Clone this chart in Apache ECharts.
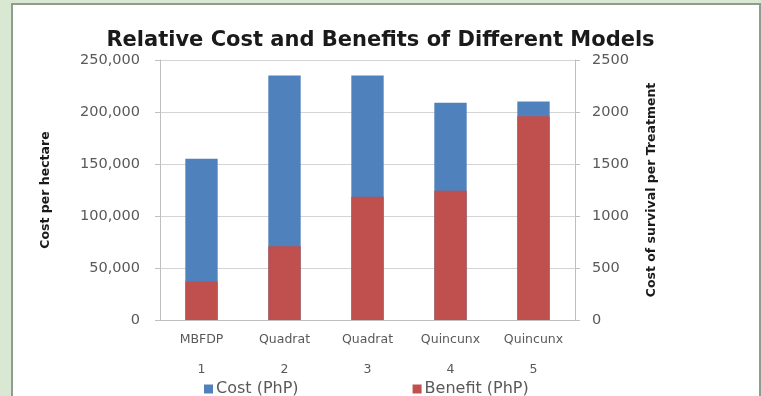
<!DOCTYPE html>
<html>
<head>
<meta charset="utf-8">
<script src="https://cdn.jsdelivr.net/npm/echarts@6/dist/echarts.min.js"></script>
<style>
  html, body { margin: 0; padding: 0; background: #d8e8d2; }
  #chart { width: 761px; height: 396px; }
</style>
</head>
<body>
<div id="chart"></div>
<script>
// Models compared (two-line axis labels: name, then number)
const modelNames = ['MBFDP', 'Quadrat', 'Quadrat', 'Quincunx', 'Quincunx'];
const modelNumbers = ['1', '2', '3', '4', '5'];
// Cost per hectare (PhP), left axis
const costValues = [155000, 235000, 235000, 209000, 210000];
// Cost of survival per treatment (PhP), right axis
const benefitValues = [370, 710, 1185, 1243, 1960];
// Axis ranges
const leftMax = 250000, leftStep = 50000;
const rightMax = 2500, rightStep = 500;

const categories = modelNames.map((n, i) => n + '\n\n' + modelNumbers[i]);
const FONT = '"DejaVu Sans", "Open Sans", sans-serif';

const chart = echarts.init(document.getElementById('chart'), null, { renderer: 'canvas' });
chart.setOption({
  backgroundColor: '#d8e8d2',
  animation: false,
  graphic: [
    { type: 'rect', z: -10, shape: { x: 12, y: 4, width: 748, height: 396 },
      style: { fill: '#ffffff', stroke: '#8f9e8c', lineWidth: 2 } }
  ],
  title: {
    text: 'Relative Cost and Benefits of Different Models',
    left: 'center', top: 25,
    textStyle: { fontFamily: FONT, fontSize: 21, fontWeight: 'bold', color: '#1a1a1a' }
  },
  legend: {
    left: 199, top: 376,
    itemWidth: 9, itemHeight: 9, itemGap: 114,
    icon: 'rect',
    textStyle: { fontFamily: FONT, fontSize: 16, color: '#595959', padding: [0, 0, 0, -2] },
    data: ['Cost (PhP)', 'Benefit (PhP)']
  },
  grid: { left: 160, right: 186, top: 60, bottom: 76 },
  xAxis: {
    type: 'category',
    data: categories,
    axisLine: { lineStyle: { color: '#bfbfbf' } },
    axisTick: { show: false },
    axisLabel: { interval: 0, fontFamily: FONT, fontSize: 12.5, color: '#595959', margin: 12, lineHeight: 15 }
  },
  yAxis: [
    {
      type: 'value', min: 0, max: leftMax, interval: leftStep,
      name: 'Cost per hectare', nameLocation: 'middle', nameGap: 108,
      nameTextStyle: { fontFamily: FONT, fontSize: 12.5, fontWeight: 'bold', color: '#1a1a1a' },
      axisLine: { show: true, lineStyle: { color: '#bfbfbf' } },
      axisTick: { show: true, length: 5, lineStyle: { color: '#bfbfbf' } },
      splitLine: { lineStyle: { color: '#d4d4d4' } },
      axisLabel: {
        fontFamily: FONT, fontSize: 14.5, color: '#595959', margin: 20,
        formatter: v => v.toLocaleString('en-US')
      }
    },
    {
      type: 'value', min: 0, max: rightMax, interval: rightStep,
      name: 'Cost of survival per Treatment', nameLocation: 'middle', nameGap: 70, nameRotate: 90,
      nameTextStyle: { fontFamily: FONT, fontSize: 12.5, fontWeight: 'bold', color: '#1a1a1a' },
      axisLine: { show: true, lineStyle: { color: '#bfbfbf' } },
      axisTick: { show: true, length: 5, lineStyle: { color: '#bfbfbf' } },
      splitLine: { show: false },
      axisLabel: {
        fontFamily: FONT, fontSize: 14.5, color: '#595959', margin: 17,
        formatter: v => String(v)
      }
    }
  ],
  series: [
    {
      name: 'Cost (PhP)', type: 'bar', yAxisIndex: 0,
      data: costValues, barWidth: '39%', barGap: '-100%',
      itemStyle: { color: '#4f81bd' }
    },
    {
      name: 'Benefit (PhP)', type: 'bar', yAxisIndex: 1,
      data: benefitValues, barWidth: '39%',
      itemStyle: { color: '#c0504d' }
    }
  ]
});
</script>
</body>
</html>
